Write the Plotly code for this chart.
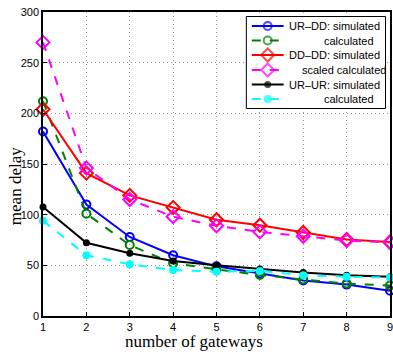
import plotly.graph_objects as go

# ---- data ----
gateways = [1, 2, 3, 4, 5, 6, 7, 8, 9]
urdd_sim = [182, 110, 78, 60, 49, 42, 35, 31, 25]
urdd_calc = [212, 101, 70, 52, 46, 40.5, 36, 32, 30]
dddd_sim = [204, 141, 119, 107, 95, 89.6, 82.4, 75.5, 73]
dddd_calc = [270, 146, 115, 98, 89, 83, 78.7, 74.5, 72.5]
urur_sim = [107.6, 72.3, 62, 54.3, 50, 46.4, 43, 40.3, 38.7]
urur_calc = [94, 60, 51, 45.4, 43.7, 44.5, 40.3, 38.7, 38]
y_ticks = [0, 50, 100, 150, 200, 250, 300]
legend_labels = ["UR\u2013DD: simulated", "calculated", "DD\u2013DD: simulated",
                 "scaled calculated", "UR\u2013UR: simulated", "calculated"]

# ---- styles ----
styles = [
    dict(color="#0000ff", dash="solid", symbol="circle-open", size=8),
    dict(color="#008000", dash="dash", symbol="circle-open", size=8),
    dict(color="#ff0000", dash="solid", symbol="diamond-open", size=10),
    dict(color="#ff00ff", dash="dash", symbol="diamond-open", size=10),
    dict(color="#000000", dash="solid", symbol="circle", size=7),
    dict(color="#00ffff", dash="dash", symbol="circle", size=8),
]
series = [urdd_sim, urdd_calc, dddd_sim, dddd_calc, urur_sim, urur_calc]

W, H = 393, 354
L, R, T, B = 43, 1, 12, 38
PX0, PX1 = L, W - R
PY0, PY1 = H - B, T  # bottom, top in pixels
XR = [1, 9]
YR = [0, 300]


def px_to_paper(px, py):
    return (px - PX0) / (PX1 - PX0), (PY0 - py) / (PY0 - PY1)


def px_to_data(px, py):
    fx, fy = px_to_paper(px, py)
    return XR[0] + fx * (XR[1] - XR[0]), YR[0] + fy * (YR[1] - YR[0])


fig = go.Figure()
for vals, st, nm in zip(series, styles, legend_labels):
    open_sym = st["symbol"].endswith("open")
    fig.add_trace(go.Scatter(
        x=gateways, y=vals, name=nm, mode="lines+markers", cliponaxis=False,
        line=dict(color=st["color"], width=2, dash=st["dash"]),
        marker=dict(symbol=st["symbol"], size=st["size"], color=st["color"],
                    line=dict(width=2 if open_sym else 0, color=st["color"])),
        showlegend=False))

# ---- manual legend box (layout positions in pixels) ----
box_px = (247.5, 16.5, 387.5, 108.5)
row_y = [26, 40.5, 55, 70, 84.5, 99]
text_x = [288, 324, 288, 301, 288, 324]
sample_x = [253, 269, 285]

bx0, by0 = px_to_data(box_px[0], box_px[3])
bx1, by1 = px_to_data(box_px[2], box_px[1])
fig.add_shape(type="rect", xref="x", yref="y", x0=bx0, x1=bx1, y0=by0, y1=by1,
              line=dict(color="black", width=1), fillcolor="white", layer="between")
for i, st in enumerate(styles):
    open_sym = st["symbol"].endswith("open")
    sx = [px_to_data(p, row_y[i])[0] for p in sample_x]
    sy = [px_to_data(sample_x[0], row_y[i])[1]] * 3
    fig.add_trace(go.Scatter(
        x=sx, y=sy, mode="lines+markers", cliponaxis=False,
        line=dict(color=st["color"], width=2, dash=st["dash"]),
        marker=dict(symbol=st["symbol"], size=[0, st["size"], 0], color=st["color"],
                    line=dict(width=[0, 2 if open_sym else 0, 0], color=st["color"])),
        showlegend=False, hoverinfo="skip"))
    tx, ty = px_to_paper(text_x[i], row_y[i])
    fig.add_annotation(x=tx, y=ty, xref="paper", yref="paper", text=legend_labels[i],
                       showarrow=False, xanchor="left", yanchor="middle",
                       font=dict(family="Liberation Sans, Arial", size=11, color="black"))

# axis titles (as paper annotations, positioned like the reference)
tx, ty = px_to_paper(195, 341)
fig.add_annotation(x=tx, y=ty, xref="paper", yref="paper", text="number of gateways",
                   showarrow=False, xanchor="center", yanchor="middle",
                   font=dict(family="Liberation Serif, Times New Roman", size=17, color="black"))
tx, ty = px_to_paper(15, 186)
fig.add_annotation(x=tx, y=ty, xref="paper", yref="paper", text="mean delay", textangle=-90,
                   showarrow=False, xanchor="center", yanchor="middle",
                   font=dict(family="Liberation Serif, Times New Roman", size=17, color="black"))
# last x tick label (plotly drops it at the edge; the reference shows it cut off)
tx, ty = px_to_paper(392, 327)
fig.add_annotation(x=tx, y=ty, xref="paper", yref="paper", text=str(gateways[-1]),
                   showarrow=False, xanchor="center", yanchor="middle",
                   font=dict(family="Liberation Sans, Arial", size=11, color="black"))

axis_common = dict(showline=True, linecolor="black", linewidth=1.5, mirror=True,
                   ticks="inside", ticklen=4, tickcolor="black",
                   showgrid=True, gridcolor="#999999", griddash="1px,3px", gridwidth=1,
                   zeroline=False,
                   tickfont=dict(family="Liberation Sans, Arial", size=11, color="black"))

fig.update_layout(
    width=W, height=H,
    margin=dict(l=L, r=R, t=T, b=B),
    paper_bgcolor="white", plot_bgcolor="white",
    xaxis=dict(range=XR, tickvals=gateways, **axis_common),
    yaxis=dict(range=YR, tickvals=y_ticks, **axis_common),
    showlegend=False,
)

fig.write_html("out.html", config={"displayModeBar": False},
               post_script="document.body.style.margin='0';")
